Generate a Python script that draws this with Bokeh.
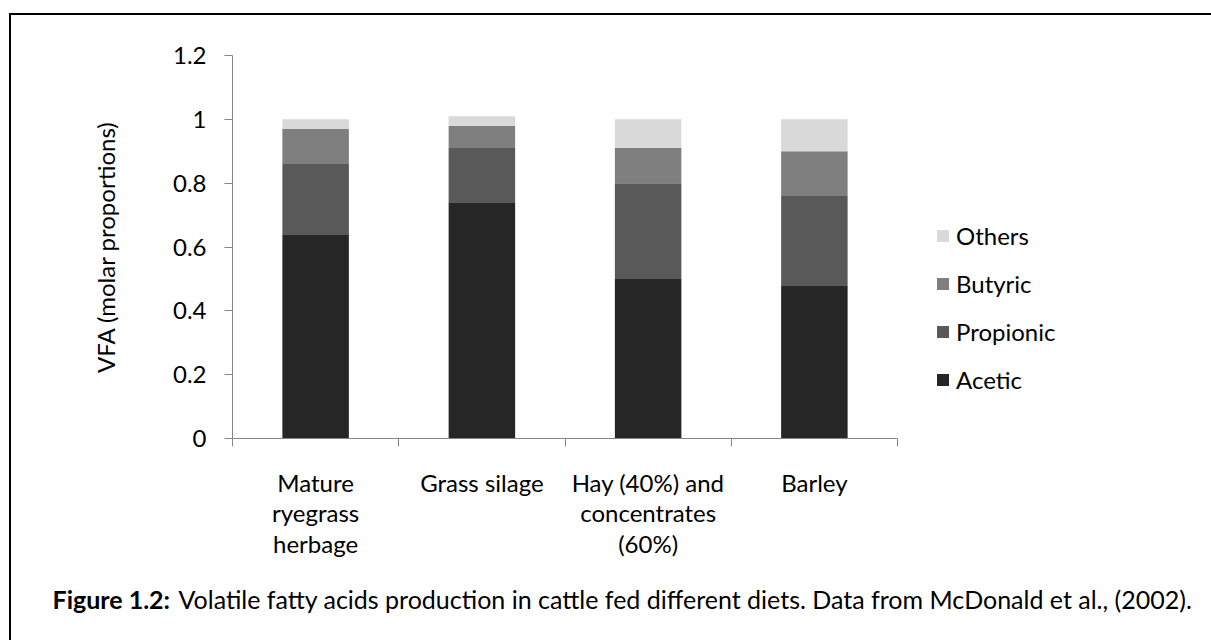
from bokeh.plotting import figure
from bokeh.layouts import column
from bokeh.models import (ColumnDataSource, FixedTicker, Legend, LegendItem,
                          Label, Range1d, LinearAxis)
from bokeh.embed import file_html
from bokeh.resources import INLINE

# Diets and VFA molar proportions (McDonald et al., 2002)
diets = ["Mature\nryegrass\nherbage", "Grass silage",
         "Hay (40%) and\nconcentrates\n(60%)", "Barley"]
acetic = [0.64, 0.74, 0.50, 0.48]
propionic = [0.22, 0.17, 0.30, 0.28]
butyric = [0.11, 0.07, 0.11, 0.14]
others = [0.03, 0.03, 0.09, 0.10]

series = ["Acetic", "Propionic", "Butyric", "Others"]
colors = ["#262626", "#595959", "#7f7f7f", "#d9d9d9"]
y_ticks = [0, 0.2, 0.4, 0.6, 0.8, 1.0, 1.2]
y_tick_labels = ["0", "0.2", "0.4", "0.6", "0.8", "1", "1.2"]

caption_head = "Figure 1.2:"
caption_body = ("Volatile fatty acids production in cattle fed different diets. "
                "Data from McDonald et al., (2002).")

FONT = "Lato"
FS = "24px"
CAP_FS = "25px"
AXIS_GREY = "#868686"

# Layout (pixels inside the framed box)
W = 1200
CHART_H = 567
CAP_H = 58
LEFT, TOP, BOTTOM, RIGHT = 221, 40, 144, 10
CAT_SPAN = 665                      # width taken by the four categories
frame_w = W - LEFT - RIGHT
x_end = len(diets) * frame_w / CAT_SPAN

xpos = [i + 0.5 for i in range(len(diets))]
src = ColumnDataSource(dict(x=xpos, Acetic=acetic, Propionic=propionic,
                            Butyric=butyric, Others=others))

p = figure(width=W, height=CHART_H, output_backend="svg", toolbar_location=None,
           x_range=Range1d(0, x_end), y_range=Range1d(0, 1.2),
           x_axis_location=None, y_axis_location=None,
           min_border_left=LEFT, min_border_right=RIGHT,
           min_border_top=TOP, min_border_bottom=BOTTOM)
p.frame_align = False
p.outline_line_color = None
p.xgrid.visible = False
p.ygrid.visible = False
p.background_fill_color = "white"
p.border_fill_color = "white"

renderers = p.vbar_stack(series, x="x", width=0.4, source=src,
                         color=colors, line_color=None)

# Value axis
yaxis = LinearAxis(ticker=FixedTicker(ticks=y_ticks, minor_ticks=[]))
yaxis.major_label_overrides = {t: l for t, l in zip(y_ticks, y_tick_labels)}
yaxis.axis_label = "VFA (molar proportions)"
yaxis.axis_label_text_font = FONT
yaxis.axis_label_text_font_size = FS
yaxis.axis_label_text_font_style = "normal"
yaxis.axis_label_text_color = "black"
yaxis.axis_label_standoff = 50
yaxis.major_label_text_font = FONT
yaxis.major_label_text_font_size = FS
yaxis.major_label_text_color = "black"
yaxis.major_label_standoff = 18
yaxis.axis_line_color = AXIS_GREY
yaxis.major_tick_line_color = AXIS_GREY
yaxis.major_tick_out = 8
yaxis.major_tick_in = 0
p.add_layout(yaxis, "left")

# Category axis: labels under the bars, tick marks on category boundaries
xaxis = LinearAxis(ticker=FixedTicker(ticks=xpos,
                                      minor_ticks=list(range(len(diets) + 1))),
                   bounds=(0, len(diets)))
xaxis.major_label_overrides = {x: d for x, d in zip(xpos, diets)}
xaxis.major_label_text_font = FONT
xaxis.major_label_text_font_size = FS
xaxis.major_label_text_color = "black"
xaxis.major_label_text_line_height = 1.06
xaxis.major_label_standoff = 21
xaxis.axis_line_color = AXIS_GREY
xaxis.major_tick_line_color = None
xaxis.major_tick_out = 0
xaxis.major_tick_in = 0
xaxis.minor_tick_line_color = AXIS_GREY
xaxis.minor_tick_out = 8
xaxis.minor_tick_in = 0
p.add_layout(xaxis, "below")

# Legend to the right of the bars, top entry is the top segment
items = [LegendItem(label=s, renderers=[r])
         for s, r in zip(series[::-1], renderers[::-1])]
legend = Legend(items=items, location=(703, 44), orientation="vertical",
                glyph_width=15, glyph_height=15, label_height=30,
                spacing=18, label_standoff=6, padding=0, margin=0,
                label_text_font=FONT, label_text_font_size=FS,
                label_text_color="black", border_line_color=None,
                background_fill_alpha=0)
p.add_layout(legend)

# Caption strip
cap = figure(width=W, height=CAP_H, output_backend="svg", toolbar_location=None,
             x_range=Range1d(0, W), y_range=Range1d(0, CAP_H),
             x_axis_location=None, y_axis_location=None,
             min_border=0, outline_line_color=None)
cap.frame_align = False
cap.xgrid.visible = False
cap.ygrid.visible = False
cap.add_layout(Label(x=41, y=42, x_units="screen", y_units="screen",
                     text=caption_head, text_font=FONT, text_font_size=CAP_FS,
                     text_font_style="bold", text_baseline="alphabetic",
                     text_color="black"))
cap.add_layout(Label(x=167, y=42, x_units="screen", y_units="screen",
                     text=caption_body, text_font=FONT, text_font_size=CAP_FS,
                     text_baseline="alphabetic", text_color="black"))

page = column(p, cap, spacing=0,
              styles={"margin-left": "9px", "margin-top": "13px",
                      "border-left": "2px solid black",
                      "border-top": "2px solid black"})

open("out.html", "w").write(file_html(page, INLINE))
